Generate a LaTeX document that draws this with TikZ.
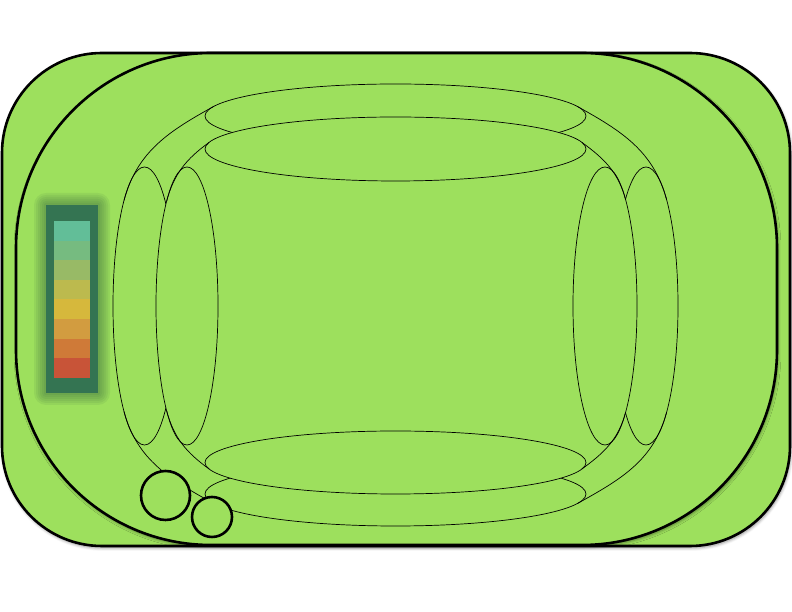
\documentclass[tikz,border=0pt]{standalone}
\usepackage{xcolor}
\usepackage{tikz}
\usetikzlibrary{shapes.geometric, shadows.blur}
\definecolor{padgreen}{RGB}{157, 224, 93}
\definecolor{bardark}{RGB}{52, 116, 82}
\definecolor{bandA}{RGB}{98, 190, 152}
\definecolor{bandB}{RGB}{118, 187, 128}
\definecolor{bandC}{RGB}{152, 186, 102}
\definecolor{bandD}{RGB}{188, 186, 78}
\definecolor{bandE}{RGB}{214, 184, 60}
\definecolor{bandF}{RGB}{210, 156, 64}
\definecolor{bandG}{RGB}{207, 122, 56}
\definecolor{bandH}{RGB}{200, 84, 56}

\tikzset{
    padshape/.style={fill=padgreen, draw=black, line width=2.6pt,
        blur shadow={shadow xshift=1pt, shadow yshift=-2pt, shadow blur radius=3pt, shadow opacity=45}},
    ring/.style={ellipse, draw=black, fill=padgreen, line width=0.7pt, inner sep=0pt, outer sep=0pt},
    knob/.style={circle, draw=black, fill=padgreen, line width=2.6pt, inner sep=0pt, outer sep=0pt},
    rim/.style={draw=black, line width=0.7pt},
}

\begin{document}
\begin{tikzpicture}[x=1bp, y=1bp]
    \useasboundingbox (0,0) rectangle (792,612);

    % body
    \path[padshape, rounded corners=100bp] (2,66) rectangle (790,559);
    \path[padshape, rounded corners=195bp] (16,67) rectangle (777,559);

    % back rings
    \node[ring, minimum width=381bp, minimum height=64bp] (bt) at (395.5,496) {};
    \node[ring, minimum width=381bp, minimum height=64bp] (bb) at (395.5,118) {};
    \node[ring, minimum width=63bp, minimum height=278bp] (bl) at (144.5,306) {};
    \node[ring, minimum width=64bp, minimum height=278bp] (br) at (646,306) {};

    \draw[rim] (bt.177) to[out=209, in=75] (bl.101);
    \draw[rim] (bt.3) to[out=-29, in=105] (br.79);
    \draw[rim] (bb.183) to[out=151, in=-75] (bl.259);
    \draw[rim] (bb.357) to[out=29, in=255] (br.281);

    % front rings
    \node[ring, minimum width=381bp, minimum height=64bp] (ft) at (395.5,463) {};
    \node[ring, minimum width=381bp, minimum height=63bp] (fb) at (395.5,149.5) {};
    \node[ring, minimum width=62bp, minimum height=278bp] (fl) at (187,306) {};
    \node[ring, minimum width=64bp, minimum height=278bp] (fr) at (605,306) {};

    \draw[rim] (ft.178) to[out=216, in=75] (fl.101);
    \draw[rim] (ft.2) to[out=-36, in=105] (fr.79);
    \draw[rim] (fb.182) to[out=144, in=-75] (fl.259);
    \draw[rim] (fb.358) to[out=36, in=255] (fr.281);

    % knobs
    \node[knob, minimum size=49bp] (bigknob) at (165.5,116.5) {};
    \node[knob, minimum size=40bp] (smallknob) at (212,95) {};

    % level bar with soft glow
    \foreach \r in {2,4,...,12}
        \fill[bardark!70!black, opacity=0.08, rounded corners=\r bp] (46-\r,219-\r) rectangle (98+\r,407+\r);
    \fill[bardark] (46,219) rectangle (98,407);
    \foreach \c [count=\i from 0] in {bandA, bandB, bandC, bandD, bandE, bandF, bandG, bandH}
        \fill[\c] (54,{391-\i*19.625}) rectangle (90,{391-(\i+1)*19.625});
\end{tikzpicture}
\end{document}
